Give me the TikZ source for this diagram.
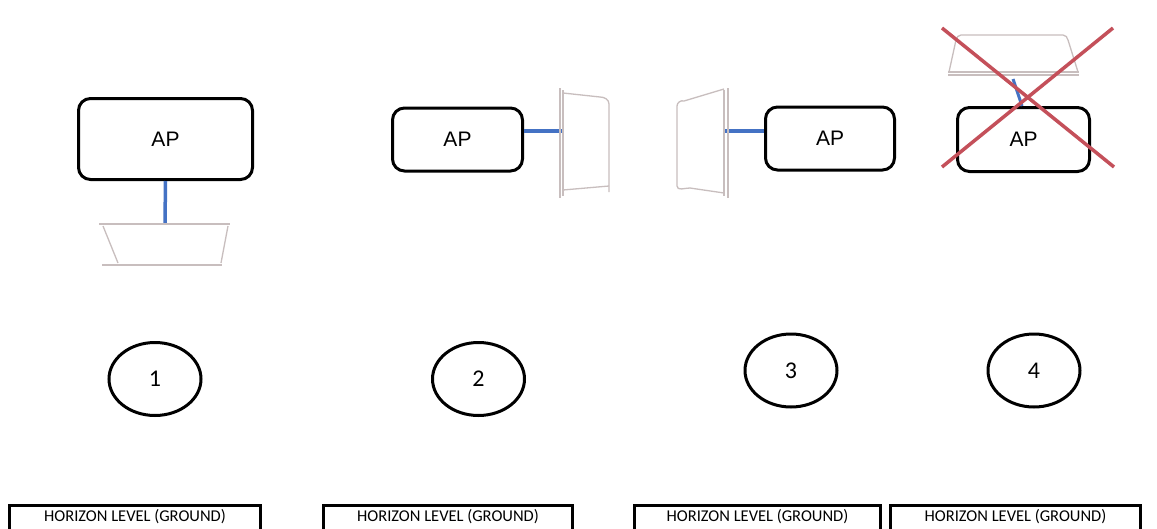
\documentclass[tikz,border=0pt]{standalone}
\usepackage{fontspec}
\setmainfont{Liberation Sans}
\newfontfamily\calfont{Carlito}
\usetikzlibrary{shapes.geometric}
\definecolor{apblue}{RGB}{68,114,196}
\definecolor{xred}{RGB}{196,80,90}
\definecolor{antgray}{RGB}{200,190,190}
\tikzset{
  apbox/.style={draw=black, line width=3pt, rounded corners=12pt, fill=white,
    font=\fontsize{21}{23}\selectfont, inner sep=0pt},
  numcircle/.style={draw=black, line width=3pt, ellipse, inner sep=0pt,
    minimum width=92pt, minimum height=73pt, font=\calfont\fontsize{24}{26}\selectfont},
  horizon/.style={draw=black, line width=3pt, inner sep=0pt,
    anchor=north west, font=\calfont\fontsize{16.5}{18}\selectfont,
    text height=16pt, text depth=20pt},
  cable/.style={draw=apblue, line width=3.5pt},
  ant/.style={draw=antgray, line width=1.3pt},
  cross/.style={draw=xred, line width=3.5pt}
}
\begin{document}
\begin{tikzpicture}[x=1pt,y=-1pt]
\useasboundingbox (0,0) rectangle (1157,528);
\clip (0,0) rectangle (1157,528);
\fill[white] (0,0) rectangle (1157,528);

% ---------- Panel 1 ----------
\node[apbox, minimum width=174pt, minimum height=81pt] (ap1) at (165.5,139) {AP};
\coordinate (ant1) at (165,223);
\draw[cable] (ap1.south) -- (ant1);
\draw[ant] (99,224) -- (230,224);
\draw[ant] (103,226) -- (118,263) (228,226) -- (221,263);
\draw[ant] (102,265) -- (222,265);

% ---------- Panel 2 ----------
\node[apbox, minimum width=130pt, minimum height=63pt] (ap2) at (457.5,139.5) {AP};
\coordinate (ant2) at (562,131);
\draw[cable] (ap2.east |- ant2) -- (ant2);
\draw[ant] (560,88) -- (560,198) (563,90) -- (563,196);
\draw[ant] (563,93) -- (600,97) to[out=0,in=90] (609,104) -- (609,192);
\draw[ant] (563,190) -- (609,186);

% ---------- Panel 3 ----------
\node[apbox, minimum width=129pt, minimum height=63pt] (ap3) at (830,138.5) {AP};
\coordinate (ant3) at (725,131);
\draw[cable] (ap3.west |- ant3) -- (ant3);
\draw[ant] (728,88) -- (728,198) (724,90) -- (724,196);
\draw[ant] (724,89) -- (684,101) to[out=160,in=90] (677,106) -- (677,186)
  to[out=-90,in=180] (690,188) -- (724,193);

% ---------- Panel 4 ----------
\node[apbox, minimum width=132pt, minimum height=64pt] (ap4) at (1023.5,139.5) {AP};
\coordinate (ant4) at (1013,79);
\draw[cable, line width=3pt] (ant4) -- (ap4.north -| 1022,0);
\draw[ant] (949,72) -- (956,40) to[out=75,in=180] (961,35) -- (1063,35)
  to[out=0,in=105] (1068,40) -- (1078,72);
\draw[ant] (948,72) -- (1079,72) (948,75) -- (1079,75);
\draw[cross] (942,28) -- (1114,167);
\draw[cross] (1113,28) -- (942,167);

% ---------- Numbers ----------
\node[numcircle] (n1) at (155,379) {1};
\node[numcircle] (n2) at (478.5,379) {2};
\node[numcircle] (n3) at (791,370.5) {3};
\node[numcircle] (n4) at (1034,370.5) {4};

% ---------- Horizon boxes ----------
\node[horizon, minimum width=251pt] (h1) at (8,504) {HORIZON LEVEL (GROUND)};
\node[horizon, minimum width=249pt] (h2) at (322,504) {HORIZON LEVEL (GROUND)};
\node[horizon, minimum width=246pt] (h3) at (633,504) {HORIZON LEVEL (GROUND)};
\node[horizon, minimum width=250pt] (h4) at (889,504) {HORIZON LEVEL (GROUND)};
\end{tikzpicture}
\end{document}
